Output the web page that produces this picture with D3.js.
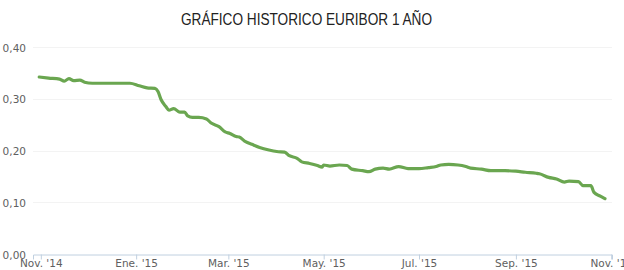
<!DOCTYPE html>
<html>
<head>
<meta charset="utf-8">
<script src="https://cdn.jsdelivr.net/npm/d3@7"></script>
<style>
  html, body { margin: 0; padding: 0; background: #fff; overflow: hidden; }
  svg { display: block; }
</style>
</head>
<body>
<svg id="chart" width="624" height="270"></svg>
<script>
//  data
const dates = [
  "2014-10-31", "2014-11-06", "2014-11-13", "2014-11-16", "2014-11-19", "2014-11-22",
  "2014-11-26", "2014-11-29", "2014-12-04", "2014-12-13", "2014-12-21", "2014-12-28",
  "2015-01-03", "2015-01-08", "2015-01-13", "2015-01-15", "2015-01-17", "2015-01-20",
  "2015-01-22", "2015-01-25", "2015-01-29", "2015-02-01", "2015-02-03", "2015-02-06",
  "2015-02-10", "2015-02-15", "2015-02-18", "2015-02-23", "2015-02-27", "2015-03-02",
  "2015-03-06", "2015-03-08", "2015-03-12", "2015-03-16", "2015-03-21", "2015-03-27",
  "2015-04-01", "2015-04-06", "2015-04-09", "2015-04-14", "2015-04-17", "2015-04-22",
  "2015-04-27", "2015-04-30", "2015-05-01", "2015-05-05", "2015-05-11", "2015-05-16",
  "2015-05-19", "2015-05-26", "2015-05-30", "2015-06-03", "2015-06-08", "2015-06-12",
  "2015-06-18", "2015-06-24", "2015-07-01", "2015-07-07", "2015-07-12", "2015-07-15",
  "2015-07-20", "2015-07-26", "2015-07-31", "2015-08-03", "2015-08-10", "2015-08-16",
  "2015-08-25", "2015-09-01", "2015-09-07", "2015-09-14", "2015-09-16", "2015-09-22",
  "2015-09-27", "2015-10-02", "2015-10-05", "2015-10-11", "2015-10-14", "2015-10-19",
  "2015-10-21", "2015-10-25", "2015-10-28"
];
const euribor = [
  0.342, 0.340, 0.338, 0.334, 0.339, 0.335,
  0.336, 0.332, 0.330, 0.330, 0.330, 0.330,
  0.325, 0.321, 0.320, 0.314, 0.298, 0.285,
  0.278, 0.281, 0.274, 0.274, 0.267, 0.264,
  0.264, 0.261, 0.253, 0.246, 0.236, 0.233,
  0.227, 0.226, 0.217, 0.212, 0.206, 0.201,
  0.198, 0.197, 0.190, 0.185, 0.178, 0.175,
  0.171, 0.168, 0.172, 0.170, 0.172, 0.171,
  0.164, 0.161, 0.159, 0.164, 0.166, 0.164,
  0.169, 0.165, 0.165, 0.167, 0.169, 0.172,
  0.173, 0.172, 0.169, 0.166, 0.164, 0.161,
  0.161, 0.160, 0.158, 0.156, 0.155, 0.148,
  0.145, 0.139, 0.141, 0.140, 0.132, 0.132,
  0.119, 0.112, 0.107
];
const tick_dates = ["2014-11-01", "2015-01-01", "2015-03-01", "2015-05-01", "2015-07-01", "2015-09-01", "2015-11-01"];
const tick_labels = ["Nov. '14", "Ene. '15", "Mar. '15", "May. '15", "Jul. '15", "Sep. '15", "Nov. '15"];
const y_ticks = [0, 0.1, 0.2, 0.3, 0.4];
const y_labels = ["0,00", "0,10", "0,20", "0,30", "0,40"];
const title = "GRÁFICO HISTORICO EURIBOR 1 AÑO";

//  draw
function draw_euribor_chart() {
  const margin = ({top: 47, right: 12, bottom: 16, left: 33});
  const svg = d3.select("#chart");
  const w = 624, h = 270;

  const parse = d3.utcParse("%Y-%m-%d");
  const data = dates.map((d, i) => ({date: parse(d), value: euribor[i]}));

  const x = d3.scaleUtc()
    .domain([parse("2014-10-27"), new Date(Date.UTC(2015, 10, 1, 12))])
    .range([margin.left, w - margin.right]);
  const y = d3.scaleLinear().domain([0, 0.4]).range([h - margin.bottom, margin.top]);

  //  grid
  svg.append("g")
    .selectAll("line")
    .data(y_ticks.slice(1))
    .join("line")
      .attr("x1", margin.left)
      .attr("x2", w - margin.right)
      .attr("y1", d => Math.round(y(d)) + 0.5)
      .attr("y2", d => Math.round(y(d)) + 0.5)
      .attr("stroke", "#f3f3f3")
      .attr("stroke-width", 1);

  //  y labels
  svg.append("g")
    .selectAll("text")
    .data(y_ticks)
    .join("text")
      .attr("x", 26)
      .attr("y", d => y(d) + 1)
      .attr("dy", "0.35em")
      .attr("text-anchor", "end")
      .attr("font-family", "DejaVu Sans")
      .attr("font-size", "10.5px")
      .attr("fill", "#606060")
      .text((d, i) => y_labels[i]);

  //  x axis
  const xAxis = g => g
    .attr("transform", `translate(0,${Math.round(y(0)) + 0.5})`)
    .call(d3.axisBottom(x)
      .tickValues(tick_dates.map(parse))
      .tickFormat((d, i) => tick_labels[i])
      .tickSizeOuter(0)
      .tickSize(5)
      .tickPadding(0));

  const gx = svg.append("g").call(xAxis);
  gx.select(".domain").attr("stroke", "#c0d0e0");
  gx.selectAll(".tick line").attr("stroke", "#c0d0e0");
  gx.selectAll(".tick text")
    .attr("font-family", "DejaVu Sans")
    .attr("font-size", "10.5px")
    .attr("fill", "#606060");

  //  line
  svg.append("path")
    .datum(data)
    .attr("fill", "none")
    .attr("stroke", "#6aa650")
    .attr("stroke-width", 3.2)
    .attr("stroke-linejoin", "round")
    .attr("stroke-linecap", "round")
    .attr("d", d3.line()
      .curve(d3.curveMonotoneX)
      .x(d => x(d.date))
      .y(d => y(d.value)));

  //  title
  svg.append("text")
    .attr("x", 181)
    .attr("y", 25)
    .attr("textLength", 251)
    .attr("lengthAdjust", "spacingAndGlyphs")
    .attr("font-family", "Liberation Sans, Arial, sans-serif")
    .attr("font-size", "16px")
    .attr("fill", "#222")
    .text(title);
}

draw_euribor_chart();
</script>
</body>
</html>
